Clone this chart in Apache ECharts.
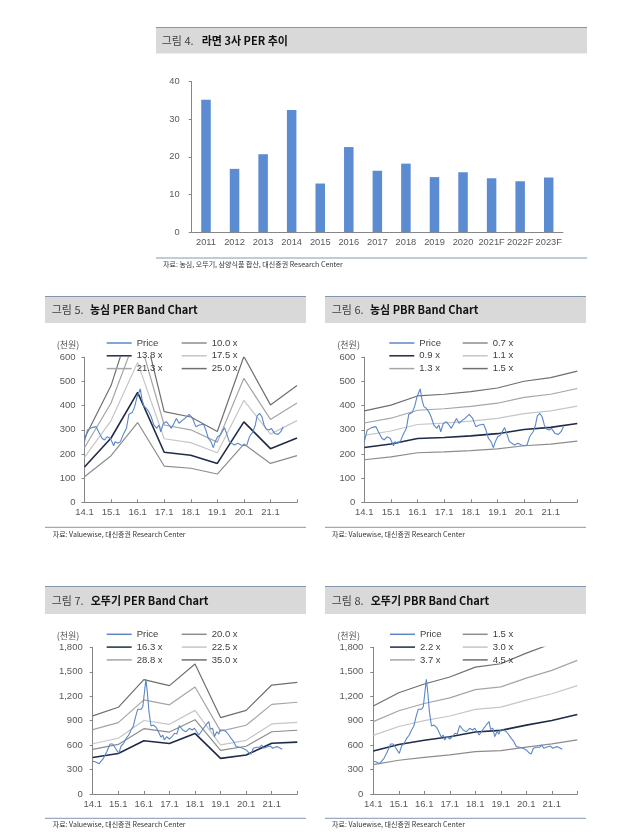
<!DOCTYPE html>
<html><head><meta charset="utf-8">
<script src="https://cdn.jsdelivr.net/npm/echarts@6/dist/echarts.min.js"></script>
<style>html,body{margin:0;padding:0;background:#fff}#c{width:619px;height:836px}</style>
</head><body><div id="c"></div>
<script>
// ---------- DATA ----------
const perYears = ['2011','2012','2013','2014','2015','2016','2017','2018','2019','2020','2021F','2022F','2023F'];
const perValues = [35.2,16.8,20.7,32.5,12.9,22.6,16.3,18.2,14.6,15.9,14.3,13.5,14.5];

const bandYears = [2014,2015,2016,2017,2018,2019,2020,2021,2022];

// 농심 PER band
const nsPer10 = [106,193,330,150,141,117,241,161,193];
const nsPer138 = [146,266,455,207,195,161,333,222,266];
const nsPer175 = [186,338,578,263,247,205,422,282,338];
const nsPer213 = [226,411,703,320,300,249,513,343,411];
const nsPer25 = [265,483,825,375,353,293,603,403,483];
// 농심 PBR band
const nsPbr07 = [176,188,205,209,214,221,234,241,253];
const nsPbr09 = [227,241,264,268,275,284,301,310,326];
const nsPbr11 = [277,295,322,328,336,347,367,378,398];
const nsPbr13 = [328,348,381,387,397,410,434,447,471];
const nsPbr15 = [378,402,440,447,458,473,501,516,543];
// 오뚜기 PER band
const otPer20 = [548,608,802,760,912,536,586,764,782];
const otPer163 = [447,496,654,619,743,437,478,623,637];
const otPer225 = [617,684,902,855,1026,603,659,860,880];
const otPer288 = [789,876,1155,1094,1313,772,844,1100,1126];
const otPer35 = [959,1064,1404,1330,1596,938,1026,1337,1369];
// 오뚜기 PBR band
const otPbr15 = [360,414,450,479,519,533,576,615,665];
const otPbr22 = [528,607,660,702,761,781,845,902,975];
const otPbr30 = [720,828,900,957,1038,1065,1152,1230,1329];
const otPbr37 = [888,1021,1110,1180,1280,1314,1421,1517,1639];
const otPbr45 = [1080,1242,1350,1436,1557,1598,1728,1845,1994];

// price (천원): [year fraction, value]
const nsPrice = [[2014.00,251],[2014.11,299],[2014.28,309],[2014.44,313],[2014.53,292],[2014.66,265],[2014.75,258],[2014.85,271],[2014.97,265],[2015.10,234],[2015.15,251],[2015.25,244],[2015.35,251],[2015.45,278],[2015.58,306],[2015.67,364],[2015.80,372],[2015.89,396],[2015.98,437],[2016.10,469],[2016.17,423],[2016.24,396],[2016.33,389],[2016.42,375],[2016.51,354],[2016.61,320],[2016.72,306],[2016.80,320],[2016.87,292],[2016.97,327],[2017.09,333],[2017.18,320],[2017.27,306],[2017.37,327],[2017.46,347],[2017.56,327],[2017.69,340],[2017.78,347],[2017.94,364],[2018.07,347],[2018.19,313],[2018.32,320],[2018.48,323],[2018.57,299],[2018.66,265],[2018.76,251],[2018.85,226],[2018.92,251],[2019.01,271],[2019.11,278],[2019.17,271],[2019.27,309],[2019.36,281],[2019.45,251],[2019.55,244],[2019.64,237],[2019.77,244],[2019.90,237],[2020.02,234],[2020.11,237],[2020.21,271],[2020.34,292],[2020.43,320],[2020.50,358],[2020.59,368],[2020.68,354],[2020.76,320],[2020.84,303],[2020.95,299],[2021.03,306],[2021.16,285],[2021.29,281],[2021.39,292],[2021.48,313]];
const otPrice = [[2014.00,400],[2014.10,396],[2014.25,372],[2014.42,438],[2014.55,519],[2014.68,613],[2014.78,613],[2014.89,561],[2015.02,499],[2015.11,589],[2015.21,622],[2015.31,683],[2015.41,724],[2015.50,785],[2015.59,834],[2015.67,941],[2015.76,1039],[2015.89,1039],[2015.96,1071],[2016.08,1407],[2016.14,1236],[2016.20,1010],[2016.28,834],[2016.37,847],[2016.48,818],[2016.57,764],[2016.67,696],[2016.74,724],[2016.80,663],[2016.89,703],[2017.00,675],[2017.10,703],[2017.20,745],[2017.29,736],[2017.39,840],[2017.52,785],[2017.65,764],[2017.78,806],[2017.89,785],[2017.98,806],[2018.07,764],[2018.15,724],[2018.24,764],[2018.33,806],[2018.43,847],[2018.54,887],[2018.60,794],[2018.69,806],[2018.76,703],[2018.85,764],[2018.93,736],[2018.98,785],[2019.11,785],[2019.22,764],[2019.32,724],[2019.41,683],[2019.50,650],[2019.61,581],[2019.74,573],[2019.87,561],[2020.00,540],[2020.10,507],[2020.19,491],[2020.28,561],[2020.41,573],[2020.52,573],[2020.61,601],[2020.68,561],[2020.75,540],[2020.84,580],[2020.94,589],[2021.04,561],[2021.17,581],[2021.27,573],[2021.41,548]];

// ---------- STYLE ----------
const FONT = 'Liberation Sans, Arial, sans-serif';
const KFONT = 'Noto Sans CJK KR, sans-serif';
const AX = '#868686', LBL = '#595959';
const C_PRICE = '#5b87c9', C1 = '#8c8c8c', C2 = '#1f2b47', C3 = '#c6c6c6', C4 = '#a5a5a5', C5 = '#6f6f6f';

const chart = echarts.init(document.getElementById('c'), null, {renderer:'canvas'});

function bandX(gi){
  return {type:'value', gridIndex:gi, min:2014, max:2022, interval:1,
    axisLine:{lineStyle:{color:AX, width:1}},
    axisTick:{inside:true, length:3, lineStyle:{color:AX}},
    axisLabel:{margin:5, color:LBL, fontSize:9.5, fontFamily:FONT, showMaxLabel:true,
      formatter:v => v >= 2022 ? '' : String(v-2000)+'.1'},
    splitLine:{show:false}};
}
function bandY(gi, max, interval, margin, comma){
  return {type:'value', gridIndex:gi, min:0, max:max, interval:interval,
    axisLine:{show:true, lineStyle:{color:AX, width:1}},
    axisTick:{show:true, length:3, lineStyle:{color:AX}},
    axisLabel:{margin:margin, color:LBL, fontSize:9.5, fontFamily:FONT,
      formatter:v => comma ? v.toLocaleString('en-US') : String(v)},
    splitLine:{show:false}};
}
function band(pid, name, gi, vals, color, w){
  return {type:'line', name:pid+'|'+name, xAxisIndex:gi, yAxisIndex:gi,
    data:bandYears.map((y,i)=>[y, vals[i]]), symbol:'none', silent:true, z:2,
    lineStyle:{color:color, width:w}, itemStyle:{color:color}};
}
function priceS(pid, gi, pts){
  return {type:'line', name:pid+'|Price', xAxisIndex:gi, yAxisIndex:gi,
    data:pts, symbol:'none', silent:true, z:3,
    lineStyle:{color:C_PRICE, width:1.1}, itemStyle:{color:C_PRICE}};
}
function legendCol(left, top, names){
  return {left:left, top:top, orient:'vertical', padding:0, itemWidth:25, itemHeight:1.5, itemGap:2.8,
    icon:'rect', selectedMode:false, data:names, formatter:n => n.split('|')[1],
    textStyle:{fontSize:9.5, fontFamily:FONT, color:'#404040'}};
}

const series = [
  {type:'bar', xAxisIndex:0, yAxisIndex:0, data:perValues, barWidth:9.5, silent:true,
   itemStyle:{color:'#5b8bd0'}},
  band('p5','10.0 x',1,nsPer10,C1,1.2), band('p5','13.8 x',1,nsPer138,C2,1.6),
  band('p5','17.5 x',1,nsPer175,C3,1.2), band('p5','21.3 x',1,nsPer213,C4,1.2),
  band('p5','25.0 x',1,nsPer25,C5,1.2), priceS('p5',1,nsPrice),
  band('p6','0.7 x',2,nsPbr07,C1,1.2), band('p6','0.9 x',2,nsPbr09,C2,1.6),
  band('p6','1.1 x',2,nsPbr11,C3,1.2), band('p6','1.3 x',2,nsPbr13,C4,1.2),
  band('p6','1.5 x',2,nsPbr15,C5,1.2), priceS('p6',2,nsPrice),
  band('p7','20.0 x',3,otPer20,C1,1.2), band('p7','16.3 x',3,otPer163,C2,1.6),
  band('p7','22.5 x',3,otPer225,C3,1.2), band('p7','28.8 x',3,otPer288,C4,1.2),
  band('p7','35.0 x',3,otPer35,C5,1.2), priceS('p7',3,otPrice),
  band('p8','1.5 x',4,otPbr15,C1,1.2), band('p8','2.2 x',4,otPbr22,C2,1.6),
  band('p8','3.0 x',4,otPbr30,C3,1.2), band('p8','3.7 x',4,otPbr37,C4,1.2),
  band('p8','4.5 x',4,otPbr45,C5,1.2), priceS('p8',4,otPrice)
];

function titleBar(x, y, w, h, tx, by, num, bold, boldX){
  return [
    {type:'rect', shape:{x:x, y:y, width:w, height:h}, style:{fill:'#d9d9d9'}, silent:true},
    {type:'line', shape:{x1:x, y1:y-0.5, x2:x+w, y2:y-0.5}, style:{stroke:'#8496b0', lineWidth:1}, silent:true},
    {type:'text', x:tx, y:by, silent:true, style:{text:num, font:'11px '+KFONT, fill:'#404040', verticalAlign:'middle'}},
    {type:'text', x:boldX, y:by, silent:true, style:{text:bold, font:'bold 11px '+KFONT, fill:'#111', verticalAlign:'middle'}}
  ];
}
function rule(x1, x2, y){ return {type:'line', silent:true, shape:{x1:x1,y1:y,x2:x2,y2:y}, style:{stroke:'#8496b0', lineWidth:1}}; }
function src(x, y, t){ return {type:'text', x:x, y:y, silent:true, style:{text:t, font:'7px '+KFONT, fill:'#333', verticalAlign:'middle'}}; }
function unit(x, y){ return {type:'text', x:x, y:y, silent:true, style:{text:'(천원)', font:'9px '+KFONT, fill:LBL, verticalAlign:'middle'}}; }

const graphic = [].concat(
  titleBar(156, 28, 431, 25.5, 161.7, 40.7, '그림 4.', '라면 3사 PER 추이', 201.7),
  titleBar(45, 297, 261, 26, 51.7, 310, '그림 5.', '농심 PER Band Chart', 90),
  titleBar(325, 297, 261, 26, 331.7, 310, '그림 6.', '농심 PBR Band Chart', 370),
  titleBar(45, 587, 261, 27, 51.7, 600.7, '그림 7.', '오뚜기 PER Band Chart', 90.7),
  titleBar(325, 587, 261, 27, 331.7, 600.7, '그림 8.', '오뚜기 PBR Band Chart', 370.7),
  [rule(156, 587, 258), rule(45, 306, 527.3), rule(325, 586, 527.3), rule(45, 306, 818.3), rule(325, 586, 818.3),
   src(163, 264.5, '자료: 농심, 오뚜기, 삼양식품 합산, 대신증권 Research Center'),
   src(52.7, 534, '자료: Valuewise, 대신증권 Research Center'),
   src(332, 534, '자료: Valuewise, 대신증권 Research Center'),
   src(52.7, 824.3, '자료: Valuewise, 대신증권 Research Center'),
   src(332, 824.3, '자료: Valuewise, 대신증권 Research Center'),
   unit(56.7, 344.5), unit(337.3, 344.5), unit(56.7, 635.7), unit(337.3, 635.7)]
);

chart.setOption({
  animation:false,
  grid:[
    {left:191.7, top:81.7, width:371.3, height:150.3, outerBoundsMode:'none'},
    {left:84.5, top:357.3, width:212.5, height:145, outerBoundsMode:'none'},
    {left:364.3, top:357.3, width:213, height:145, outerBoundsMode:'none'},
    {left:92.7, top:647.3, width:204.6, height:146.7, outerBoundsMode:'none'},
    {left:373.3, top:647.3, width:204, height:146.7, outerBoundsMode:'none'}
  ],
  xAxis:[
    {type:'category', gridIndex:0, data:perYears,
     axisLine:{lineStyle:{color:AX}}, axisTick:{length:3, lineStyle:{color:AX}},
     axisLabel:{margin:6, color:LBL, fontSize:9.3, fontFamily:FONT, interval:0}},
    bandX(1), bandX(2), bandX(3), bandX(4)
  ],
  yAxis:[
    {type:'value', gridIndex:0, min:0, max:40, interval:10,
     axisLine:{show:true, lineStyle:{color:AX}}, axisTick:{show:true, length:3, lineStyle:{color:AX}},
     axisLabel:{margin:12, color:LBL, fontSize:9.3, fontFamily:FONT}, splitLine:{show:false}},
    bandY(1, 600, 100, 9, false), bandY(2, 600, 100, 9, false),
    bandY(3, 1800, 300, 10, true), bandY(4, 1800, 300, 10, true)
  ],
  legend:[
    legendCol(106.7, 338, ['p5|Price','p5|13.8 x','p5|21.3 x']),
    legendCol(181.7, 338, ['p5|10.0 x','p5|17.5 x','p5|25.0 x']),
    legendCol(389.3, 338, ['p6|Price','p6|0.9 x','p6|1.3 x']),
    legendCol(462.7, 338, ['p6|0.7 x','p6|1.1 x','p6|1.5 x']),
    legendCol(106.7, 629.3, ['p7|Price','p7|16.3 x','p7|28.8 x']),
    legendCol(181.7, 629.3, ['p7|20.0 x','p7|22.5 x','p7|35.0 x']),
    legendCol(390, 629.3, ['p8|Price','p8|2.2 x','p8|3.7 x']),
    legendCol(462.7, 629.3, ['p8|1.5 x','p8|3.0 x','p8|4.5 x'])
  ],
  series:series,
  graphic:graphic
});
</script></body></html>
